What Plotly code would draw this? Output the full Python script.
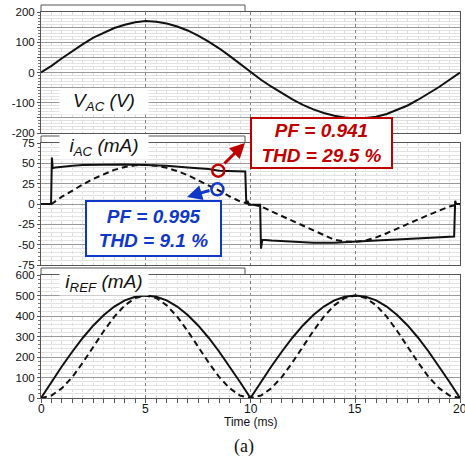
import plotly.graph_objects as go

# ---------------- data ----------------
t = [0, 0.5, 1, 1.5, 2, 2.5, 3, 3.5, 4, 4.5, 5, 5.5, 6, 6.5, 7, 7.5, 8, 8.5, 9, 9.5, 10,
     10.5, 11, 11.5, 12, 12.5, 13, 13.5, 14, 14.5, 15, 15.5, 16, 16.5, 17, 17.5, 18, 18.5, 19, 19.5, 20]

v_ac = [0, 22, 47, 71, 94, 115, 132, 147, 158, 166, 170, 168, 162, 152, 139, 122, 102, 80, 55, 28, 0,
        -24, -47, -69, -89, -107, -122, -134, -143, -149, -152, -150, -146, -137, -124, -109, -90, -70, -48, -24, 0]

# i_AC, PF = 0.941 (solid)
t_iac1 = [0, 0.48, 0.52, 0.56, 0.7, 1, 1.5, 2, 3, 4, 5, 6, 7, 7.5, 8, 8.5, 9, 9.5, 9.75, 9.8, 9.86, 9.92,
          10.2, 10.46, 10.5, 10.56, 11, 12, 13, 14, 15, 16, 17, 18, 19, 19.72, 19.77, 19.82, 20]
i_ac1 = [0, 0, 57, 44, 45, 46, 47, 48, 48.5, 48.5, 48, 47, 45, 44, 43, 41, 40.5, 40, 40, 0, 4, -1,
         -1, -1, -55, -44, -45, -46.5, -47.5, -47.5, -46.5, -45, -43.5, -42, -41, -40, 4, 0, 0]

# i_AC, PF = 0.995 (dashed)
i_ac2 = [0, 0, 9, 17, 24, 31, 37, 42, 45.5, 47.5, 48, 47, 44.5, 40.5, 35.5, 29.5, 23, 16.5, 9.5, 3, 0,
         -3, -9, -15, -21, -27, -33, -39, -44, -46, -46.5, -45, -41, -36, -30, -25, -19, -13.5, -8, -3, 0]

# i_REF
i_ref1 = [0, 78, 155, 227, 294, 354, 405, 446, 476, 494, 500, 494, 476, 446, 405, 354, 294, 227, 155, 78, 0,
          78, 155, 227, 294, 354, 405, 446, 476, 494, 500, 494, 476, 446, 405, 354, 294, 227, 155, 78, 0]
i_ref2 = [0, 12, 48, 103, 173, 250, 327, 397, 452, 488, 500, 488, 452, 397, 327, 250, 173, 103, 48, 12, 0,
          12, 48, 103, 173, 250, 327, 397, 452, 488, 500, 488, 452, 397, 327, 250, 173, 103, 48, 12, 0]

x_ticks = [0, 5, 10, 15, 20]
x_text = ["0", "5", "10", "15", "20"]
y1_ticks = [-200, -150, -100, -50, 0, 50, 100, 150, 200]
y1_text = ["-200", "", "-100", "", "0", "", "100", "", "200"]
y2_ticks = [-75, -50, -25, 0, 25, 50, 75]
y2_text = ["-75", "-50", "-25", "0", "25", "50", "75"]
y3_ticks = [0, 100, 200, 300, 400, 500, 600]
y3_text = ["0", "100", "200", "300", "400", "500", "600"]

# ---------------- figure ----------------
W, H = 465, 459
L, R, T, B = 41, 5, 12, 61
PW, PH = W - L - R, H - T - B


def px(x):
    return (x - L) / PW


def py(y):
    return 1 - (y - T) / PH


FONT = "Liberation Sans, Arial, sans-serif"
BLACK = "#111111"
RED = "#c00000"
BLUE = "#1038c8"

fig = go.Figure()
line_solid = dict(color=BLACK, width=2)
line_dash = dict(color=BLACK, width=2, dash="6px,4px")

fig.add_trace(go.Scatter(x=t, y=v_ac, mode="lines", line=line_solid, xaxis="x", yaxis="y"))
fig.add_trace(go.Scatter(x=t, y=i_ac2, mode="lines", line=line_dash, xaxis="x2", yaxis="y2"))
fig.add_trace(go.Scatter(x=t_iac1, y=i_ac1, mode="lines", line=line_solid, xaxis="x2", yaxis="y2"))
fig.add_trace(go.Scatter(x=t, y=i_ref2, mode="lines", line=line_dash, xaxis="x3", yaxis="y3"))
fig.add_trace(go.Scatter(x=t, y=i_ref1, mode="lines", line=line_solid, xaxis="x3", yaxis="y3"))

xcommon = dict(range=[0, 20], tickvals=x_ticks, showgrid=True, gridcolor="#808080", griddash="dot",
               gridwidth=1, showline=True, mirror=True, linecolor="#555555", linewidth=1,
               zeroline=False, showticklabels=False)
xminor = dict(tick0=0, dtick=0.5, showgrid=True, gridcolor="#dcdcdc", gridwidth=1)


def yax(ticks, text, rng, minor_dt, dom, anchor):
    return dict(range=rng, tickvals=ticks, ticktext=text, domain=dom, anchor=anchor,
                showgrid=True, gridcolor="#999999", gridwidth=1, zeroline=False,
                showline=True, mirror=True, linecolor="#555555", linewidth=1,
                ticks="outside", ticklen=3, tickcolor="#555555",
                minor=dict(tick0=0, dtick=minor_dt, showgrid=True, gridcolor="#e2e2e2", gridwidth=1,
                           ticks="outside", ticklen=2, tickcolor="#777777"),
                tickfont=dict(family=FONT, size=11.5, color=BLACK))


fig.update_layout(
    width=W, height=H, margin=dict(l=L, r=R, t=T, b=B),
    paper_bgcolor="white", plot_bgcolor="white", showlegend=False,
    xaxis=dict(xcommon, anchor="y", minor=xminor),
    xaxis2=dict(xcommon, anchor="y2", minor=xminor),
    xaxis3=dict(xcommon, anchor="y3", ticks="outside", ticklen=4, tickcolor="#555555",
                minor=dict(xminor, ticks="outside", ticklen=4, tickcolor="#555555")),
    yaxis=yax(y1_ticks, y1_text, [-200, 200], 10, [py(133), 1], "x"),
    yaxis2=yax(y2_ticks, y2_text, [-75, 75], 5, [py(265), py(143)], "x2"),
    yaxis3=yax(y3_ticks, y3_text, [0, 600], 20, [0, py(275)], "x3"),
)

shapes = []
# tab on top frame of each panel
for top in (12, 143, 275):
    shapes.append(dict(type="path", xref="paper", yref="paper",
                       path=f"M {px(41)} {py(top)} L {px(41)} {py(top-7)} L {px(245)} {py(top-7)} L {px(245)} {py(top)}",
                       line=dict(color="#555555", width=1), fillcolor="white", layer="below"))
# circles
shapes.append(dict(type="circle", xref="x2", yref="y2", xsizemode="pixel", ysizemode="pixel",
                   xanchor=8.46, yanchor=41, x0=-6, x1=6, y0=-6, y1=6,
                   line=dict(color=RED, width=2.5)))
shapes.append(dict(type="circle", xref="x2", yref="y2", xsizemode="pixel", ysizemode="pixel",
                   xanchor=8.42, yanchor=18, x0=-6, x1=6, y0=-6, y1=6,
                   line=dict(color=BLUE, width=2.5)))
fig.update_layout(shapes=shapes)

C = dict(xanchor="center", yanchor="middle", xref="paper", yref="paper")
ann = []
# x tick labels (drawn as text so the edge label "20" is kept, as in the reference)
for v, s in zip(x_ticks, x_text):
    ann.append(dict(C, x=px(41 + v * PW / 20), y=py(409), showarrow=False, text=s,
                    font=dict(family=FONT, size=12, color=BLACK)))
# panel labels in white boxes
for (cy, txt) in ((102.5, "V<sub>AC</sub> (V)"), (147, "i<sub>AC</sub> (mA)"), (283, "i<sub>REF</sub> (mA)")):
    ann.append(dict(C, x=px(104), y=py(cy), showarrow=False,
                    text=f"<i>{txt}</i>", font=dict(family=FONT, size=19, color=BLACK),
                    bgcolor="white", width=86, height=22, borderpad=1))
# PF boxes
ann.append(dict(C, x=px(321.7), y=py(143.3), showarrow=False,
                text="<b><i>PF = 0.941<br>THD = 29.5 %</i></b>",
                font=dict(family=FONT, size=19, color=RED),
                bgcolor="white", bordercolor=RED, borderwidth=2, borderpad=2,
                width=135, height=44))
ann.append(dict(C, x=px(153.3), y=py(228.3), showarrow=False,
                text="<b><i>PF = 0.995<br>THD = 9.1 %</i></b>",
                font=dict(family=FONT, size=19, color=BLUE),
                bgcolor="white", bordercolor=BLUE, borderwidth=2, borderpad=2,
                width=129, height=49))
# arrows
ann.append(dict(xref="paper", yref="paper", x=px(245), y=py(143), ax=-22, ay=22, text="",
                showarrow=True, arrowhead=2, arrowsize=1, arrowwidth=3, arrowcolor=RED))
ann.append(dict(xref="paper", yref="paper", x=px(187), y=py(197), ax=24, ay=-7, text="",
                showarrow=True, arrowhead=2, arrowsize=1, arrowwidth=3, arrowcolor=BLUE))
# axis title and caption
ann.append(dict(C, x=px(251), y=py(422), showarrow=False,
                text="Time (ms)", font=dict(family=FONT, size=12, color=BLACK)))
ann.append(dict(C, x=px(244), y=py(446), showarrow=False,
                text="(a)", font=dict(family="Liberation Serif, Times New Roman, serif", size=18, color=BLACK)))
fig.update_layout(annotations=ann)

fig.write_html("out.html")
